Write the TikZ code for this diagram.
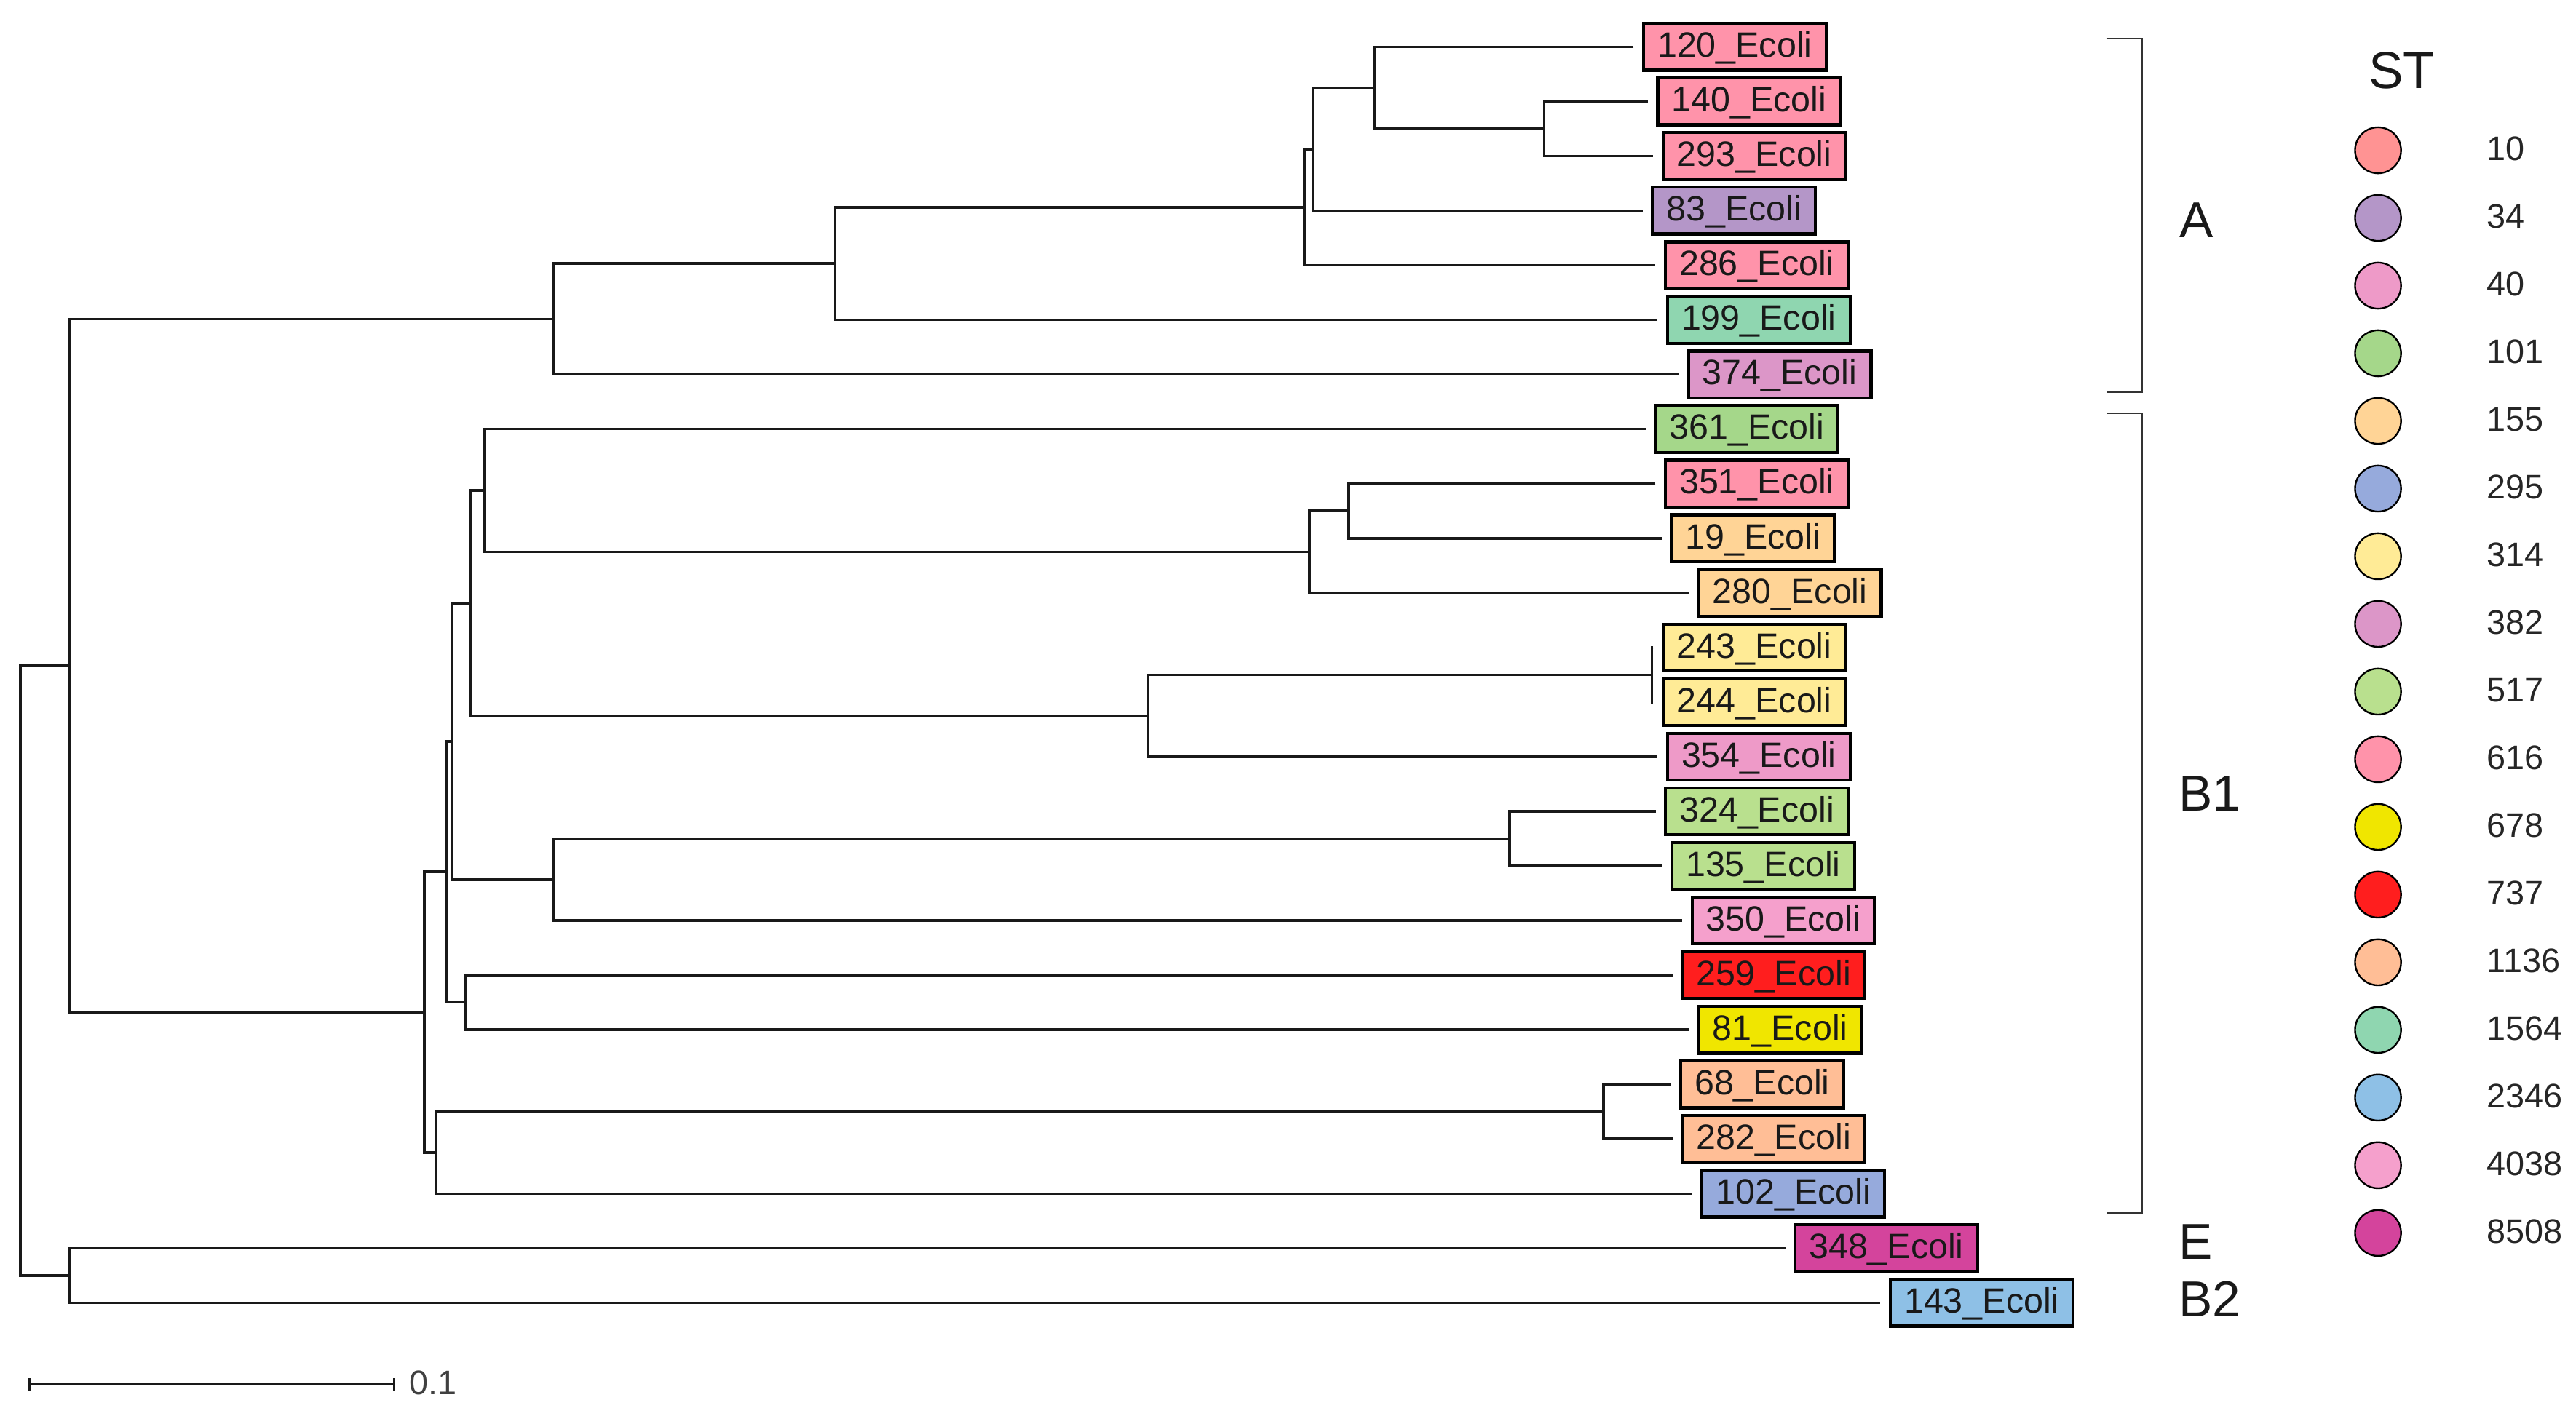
\documentclass[tikz,border=0pt]{standalone}
\usepackage{fontspec}
\setmainfont{Liberation Sans}
\usetikzlibrary{arrows.meta, positioning}

\definecolor{st10}{RGB}{255,147,147}
\definecolor{st34}{RGB}{180,150,200}
\definecolor{st40}{RGB}{238,154,200}
\definecolor{st101}{RGB}{165,215,138}
\definecolor{st155}{RGB}{255,212,150}
\definecolor{st295}{RGB}{150,170,220}
\definecolor{st314}{RGB}{255,235,150}
\definecolor{st382}{RGB}{220,150,200}
\definecolor{st517}{RGB}{185,224,142}
\definecolor{st616}{RGB}{255,147,170}
\definecolor{st678}{RGB}{240,230,0}
\definecolor{st737}{RGB}{255,30,30}
\definecolor{st1136}{RGB}{255,190,150}
\definecolor{st1564}{RGB}{143,214,176}
\definecolor{st2346}{RGB}{142,192,230}
\definecolor{st4038}{RGB}{245,160,204}
\definecolor{st8508}{RGB}{212,68,156}

\begin{document}
\begin{tikzpicture}[
x=0.02cm, y=-0.02cm,
branch/.style={line width=0.9pt, black!90},
isolate/.style={rectangle, draw=black, line width=1.1pt, anchor=west, inner xsep=0.17cm, inner ysep=0pt, minimum height=0.57cm, text height=0.72em, text depth=0pt, outer xsep=0.12cm, outer ysep=0pt, text=black!90, font=\fontsize{12.2}{14}\selectfont},
bracket/.style={line width=0.5pt, black!80},
cladename/.style={anchor=west, inner sep=0pt, text height=0.72em, text depth=0pt, text=black!90, font=\fontsize{17.5}{20}\selectfont},
sthead/.style={inner sep=0pt, text height=0.72em, text depth=0pt, text=black!90, font=\fontsize{18}{21}\selectfont},
stdot/.style={circle, draw=black, line width=0.6pt, minimum size=0.56cm, inner sep=0pt},
stnum/.style={anchor=west, inner sep=0pt, text height=0.72em, text depth=0pt, text=black!85, font=\fontsize{11.8}{14}\selectfont},
scalebar/.style={line width=0.85pt, black!90, {Bar[width=0.16cm]}-{Bar[width=0.16cm]}},
]
\useasboundingbox (0,0) rectangle (1568,862);

% isolates
\node[isolate, fill=st616] (l120) at (994.4,28.5) {120\_Ecoli};
\node[isolate, fill=st616] (l140) at (1003,61.75) {140\_Ecoli};
\node[isolate, fill=st616] (l293) at (1006.3,95) {293\_Ecoli};
\node[isolate, fill=st34] (l83) at (999.8,128.25) {83\_Ecoli};
\node[isolate, fill=st616] (l286) at (1007.7,161.5) {286\_Ecoli};
\node[isolate, fill=st1564] (l199) at (1009,194.75) {199\_Ecoli};
\node[isolate, fill=st382] (l374) at (1021.7,228) {374\_Ecoli};
\node[isolate, fill=st101] (l361) at (1001.7,261.25) {361\_Ecoli};
\node[isolate, fill=st616] (l351) at (1007.7,294.5) {351\_Ecoli};
\node[isolate, fill=st155] (l19) at (1011.5,327.75) {19\_Ecoli};
\node[isolate, fill=st155] (l280) at (1028,361) {280\_Ecoli};
\node[isolate, fill=st314] (l243) at (1006.3,394.25) {243\_Ecoli};
\node[isolate, fill=st314] (l244) at (1006.3,427.5) {244\_Ecoli};
\node[isolate, fill=st40] (l354) at (1009,460.75) {354\_Ecoli};
\node[isolate, fill=st517] (l324) at (1007.8,494) {324\_Ecoli};
\node[isolate, fill=st517] (l135) at (1011.7,527.25) {135\_Ecoli};
\node[isolate, fill=st4038] (l350) at (1024,560.5) {350\_Ecoli};
\node[isolate, fill=st737] (l259) at (1018,593.75) {259\_Ecoli};
\node[isolate, fill=st678] (l81) at (1028,627) {81\_Ecoli};
\node[isolate, fill=st1136] (l68) at (1017,660.25) {68\_Ecoli};
\node[isolate, fill=st1136] (l282) at (1018,693.5) {282\_Ecoli};
\node[isolate, fill=st295] (l102) at (1030,726.75) {102\_Ecoli};
\node[isolate, fill=st8508] (l348) at (1086.6,760) {348\_Ecoli};
\node[isolate, fill=st2346] (l143) at (1144.6,793.25) {143\_Ecoli};

% internal nodes
\coordinate (nA4) at (940,78.375);
\coordinate (nA3) at (836.6,53.44);
\coordinate (nA2) at (799,90.84);
\coordinate (nA1) at (794,126.17);
\coordinate (nA0) at (508.5,160.46);
\coordinate (nA) at (337,194.23);
\coordinate (nB7) at (820.5,311.125);
\coordinate (nB6) at (797,336.06);
\coordinate (nB5) at (295,298.66);
\coordinate (nB8) at (1005.5,410.875);
\coordinate (nB9) at (699,435.81);
\coordinate (nB4) at (286.6,367.24);
\coordinate (nB11) at (919,510.625);
\coordinate (nB10) at (337,535.56);
\coordinate (nB3) at (275,451.4);
\coordinate (nB13) at (283.6,610.375);
\coordinate (nB2) at (272,530.89);
\coordinate (nB15) at (976,676.875);
\coordinate (nB14) at (265.4,701.81);
\coordinate (nB) at (258.3,616.35);
\coordinate (nAB) at (42,405.29);
\coordinate (nEB) at (42,776.625);
\coordinate (root) at (12.4,591);

% branches
\draw[branch] (l140.west) -| (nA4) |- (l293.west);
\draw[branch] (l120.west) -| (nA3) |- (nA4);
\draw[branch] (nA3) -| (nA2) |- (l83.west);
\draw[branch] (nA2) -| (nA1) |- (l286.west);
\draw[branch] (nA1) -| (nA0) |- (l199.west);
\draw[branch] (nA0) -| (nA) |- (l374.west);
\draw[branch] (l351.west) -| (nB7) |- (l19.west);
\draw[branch] (nB7) -| (nB6) |- (l280.west);
\draw[branch] (l361.west) -| (nB5) |- (nB6);
\draw[branch] (l243.west) -| (nB8) |- (l244.west);
\draw[branch] (nB8) -| (nB9) |- (l354.west);
\draw[branch] (nB5) -| (nB4) |- (nB9);
\draw[branch] (l324.west) -| (nB11) |- (l135.west);
\draw[branch] (nB11) -| (nB10) |- (l350.west);
\draw[branch] (nB4) -| (nB3) |- (nB10);
\draw[branch] (l259.west) -| (nB13) |- (l81.west);
\draw[branch] (nB3) -| (nB2) |- (nB13);
\draw[branch] (l68.west) -| (nB15) |- (l282.west);
\draw[branch] (nB15) -| (nB14) |- (l102.west);
\draw[branch] (nB2) -| (nB) |- (nB14);
\draw[branch] (nA) -| (nAB) |- (nB);
\draw[branch] (l348.west) -| (nEB) |- (l143.west);
\draw[branch] (nAB) -| (root) |- (nEB);

% phylogroups
\draw[bracket] (1282,23.4) -| (1304,238.7) -- (1282,238.7);
\draw[bracket] (1282,251.5) -| (1304,738.4) -- (1282,738.4);
\node[cladename] (cA) at (1326.6,138.5) {A};
\node[cladename] (cB1) at (1326,487.5) {B1};
\node[cladename] (cE) at (1326,760.5) {E};
\node[cladename] (cB2) at (1326,795.5) {B2};

% legend
\node[sthead] (st) at (1462,47.5) {ST};
\node[stdot, fill=st10] (d10) at (1447.5,91.5) {};
\node[stdot, fill=st34] (d34) at (1447.5,132.7) {};
\node[stdot, fill=st40] (d40) at (1447.5,173.9) {};
\node[stdot, fill=st101] (d101) at (1447.5,215.1) {};
\node[stdot, fill=st155] (d155) at (1447.5,256.3) {};
\node[stdot, fill=st295] (d295) at (1447.5,297.5) {};
\node[stdot, fill=st314] (d314) at (1447.5,338.7) {};
\node[stdot, fill=st382] (d382) at (1447.5,379.9) {};
\node[stdot, fill=st517] (d517) at (1447.5,421.1) {};
\node[stdot, fill=st616] (d616) at (1447.5,462.3) {};
\node[stdot, fill=st678] (d678) at (1447.5,503.5) {};
\node[stdot, fill=st737] (d737) at (1447.5,544.7) {};
\node[stdot, fill=st1136] (d1136) at (1447.5,585.9) {};
\node[stdot, fill=st1564] (d1564) at (1447.5,627.1) {};
\node[stdot, fill=st2346] (d2346) at (1447.5,668.3) {};
\node[stdot, fill=st4038] (d4038) at (1447.5,709.5) {};
\node[stdot, fill=st8508] (d8508) at (1447.5,750.7) {};
\node[stnum, right=1.03cm of d10] (t10) {10};
\node[stnum, right=1.03cm of d34] (t34) {34};
\node[stnum, right=1.03cm of d40] (t40) {40};
\node[stnum, right=1.03cm of d101] (t101) {101};
\node[stnum, right=1.03cm of d155] (t155) {155};
\node[stnum, right=1.03cm of d295] (t295) {295};
\node[stnum, right=1.03cm of d314] (t314) {314};
\node[stnum, right=1.03cm of d382] (t382) {382};
\node[stnum, right=1.03cm of d517] (t517) {517};
\node[stnum, right=1.03cm of d616] (t616) {616};
\node[stnum, right=1.03cm of d678] (t678) {678};
\node[stnum, right=1.03cm of d737] (t737) {737};
\node[stnum, right=1.03cm of d1136] (t1136) {1136};
\node[stnum, right=1.03cm of d1564] (t1564) {1564};
\node[stnum, right=1.03cm of d2346] (t2346) {2346};
\node[stnum, right=1.03cm of d4038] (t4038) {4038};
\node[stnum, right=1.03cm of d8508] (t8508) {8508};

% scale bar
\coordinate (sbL) at (17.4,843);
\coordinate (sbR) at (240.7,843);
\draw[scalebar] (sbL) -- (sbR);
\node[stnum, text=black!75, right=0.16cm of sbR] (sbtext) {0.1};
\end{tikzpicture}
\end{document}
